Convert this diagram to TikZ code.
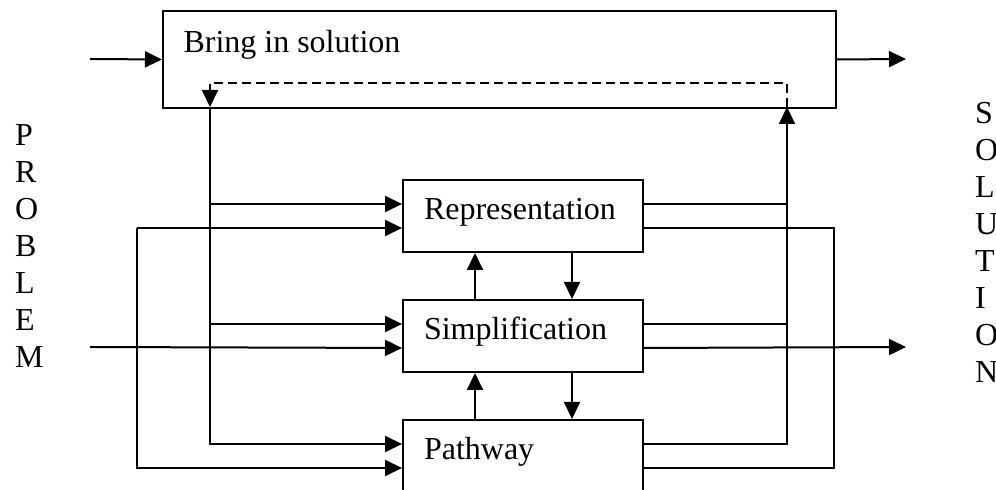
\documentclass[tikz,border=0pt]{standalone}
\usepackage{fontspec}
\setmainfont{Liberation Serif}
\usetikzlibrary{arrows.meta,calc}

\begin{document}
\begin{tikzpicture}[x=0.5pt,y=-0.5pt,line width=1pt,
  font=\fontsize{16}{18}\selectfont,
  arr/.style={-{Triangle[length=8.5pt,width=8pt]}},
  loopline/.style={dash pattern=on 4.5pt off 2.5pt},
  stage/.style={draw,anchor=north west,minimum width=120pt,minimum height=36pt,
    text width=99pt,align=left,inner xsep=10.5pt,text height=0.7em,text depth=0.3em},
  letter/.style={anchor=base west,inner sep=0pt}]
  \clip (0,0) rectangle (996,490);

  % outer box and the three stages
  \node[draw,anchor=north west,minimum width=336.5pt,minimum height=48.5pt,inner sep=0pt] (bring) at (162,10) {};
  \node[letter] (bringtxt) at (182.5,53) {Bring in solution};
  \node[stage] (rep) at (402,179) {Representation};
  \node[stage] (simp) at (402,299) {Simplification};
  \node[stage] (path) at (402,419) {Pathway};

  % side labels
  \foreach \ch [count=\i] in {P,R,O,B,L,E,M}
    \node[letter] (prob\i) at (14,{146+37*(\i-1)}) {\ch};
  \foreach \ch [count=\i] in {S,O,L,U,T,I,O,N}
    \node[letter] (sol\i) at (974,{124+37*(\i-1)}) {\ch};

  % in/out points on the stages
  \foreach \b in {rep,simp,path} {
    \coordinate (\b-i1) at ($(\b.west)+(0,-12)$);
    \coordinate (\b-i2) at ($(\b.west)+(0,12)$);
    \coordinate (\b-o1) at ($(\b.east)+(0,-12)$);
    \coordinate (\b-o2) at ($(\b.east)+(0,12)$);
  }
  \coordinate (pin) at (90,347);
  \coordinate (pout) at (906,347);
  \coordinate (bin) at (90,59);
  \coordinate (bout) at (906,59);
  \coordinate (ltop) at (210,107);
  \coordinate (rtop) at (787,107);
  \coordinate (lout) at (137,0);
  \coordinate (rout) at (834,0);
  \coordinate (dl) at (210,83);

  % top box
  \draw[arr] (bin) -- (bring.west);
  \draw[arr] (bring.east) -- (bout);
  \draw[loopline] (rtop) |- (dl) -- ++(0,6);
  \draw[arr] ($(dl)+(0,5)$) -- (ltop);

  % left feeds
  \draw[arr] (ltop) |- (path-i1);
  \draw[arr] (ltop |- rep-i1) -- (rep-i1);
  \draw[arr] (ltop |- simp-i1) -- (simp-i1);
  \draw[arr] (rep-i2 -| lout) -- (rep-i2);
  \draw[arr] (rep-i2 -| lout) |- (path-i2);
  \draw[arr] (pin) -- (simp-i2);

  % between stages
  \draw[arr] ($(simp.north)+(-48,0)$) -- ($(rep.south)+(-48,0)$);
  \draw[arr] ($(rep.south)+(49,0)$) -- ($(simp.north)+(49,0)$);
  \draw[arr] ($(path.north)+(-48,0)$) -- ($(simp.south)+(-48,0)$);
  \draw[arr] ($(simp.south)+(49,0)$) -- ($(path.north)+(49,0)$);

  % right side
  \draw[arr] (path-o1) -| (rtop);
  \draw (rep-o1) -- (rep-o1 -| rtop);
  \draw (simp-o1) -- (simp-o1 -| rtop);
  \draw (rep-o2) -| (path-o2 -| rout) -- (path-o2);
  \draw[arr] (simp-o2) -- (pout);
\end{tikzpicture}
\end{document}
